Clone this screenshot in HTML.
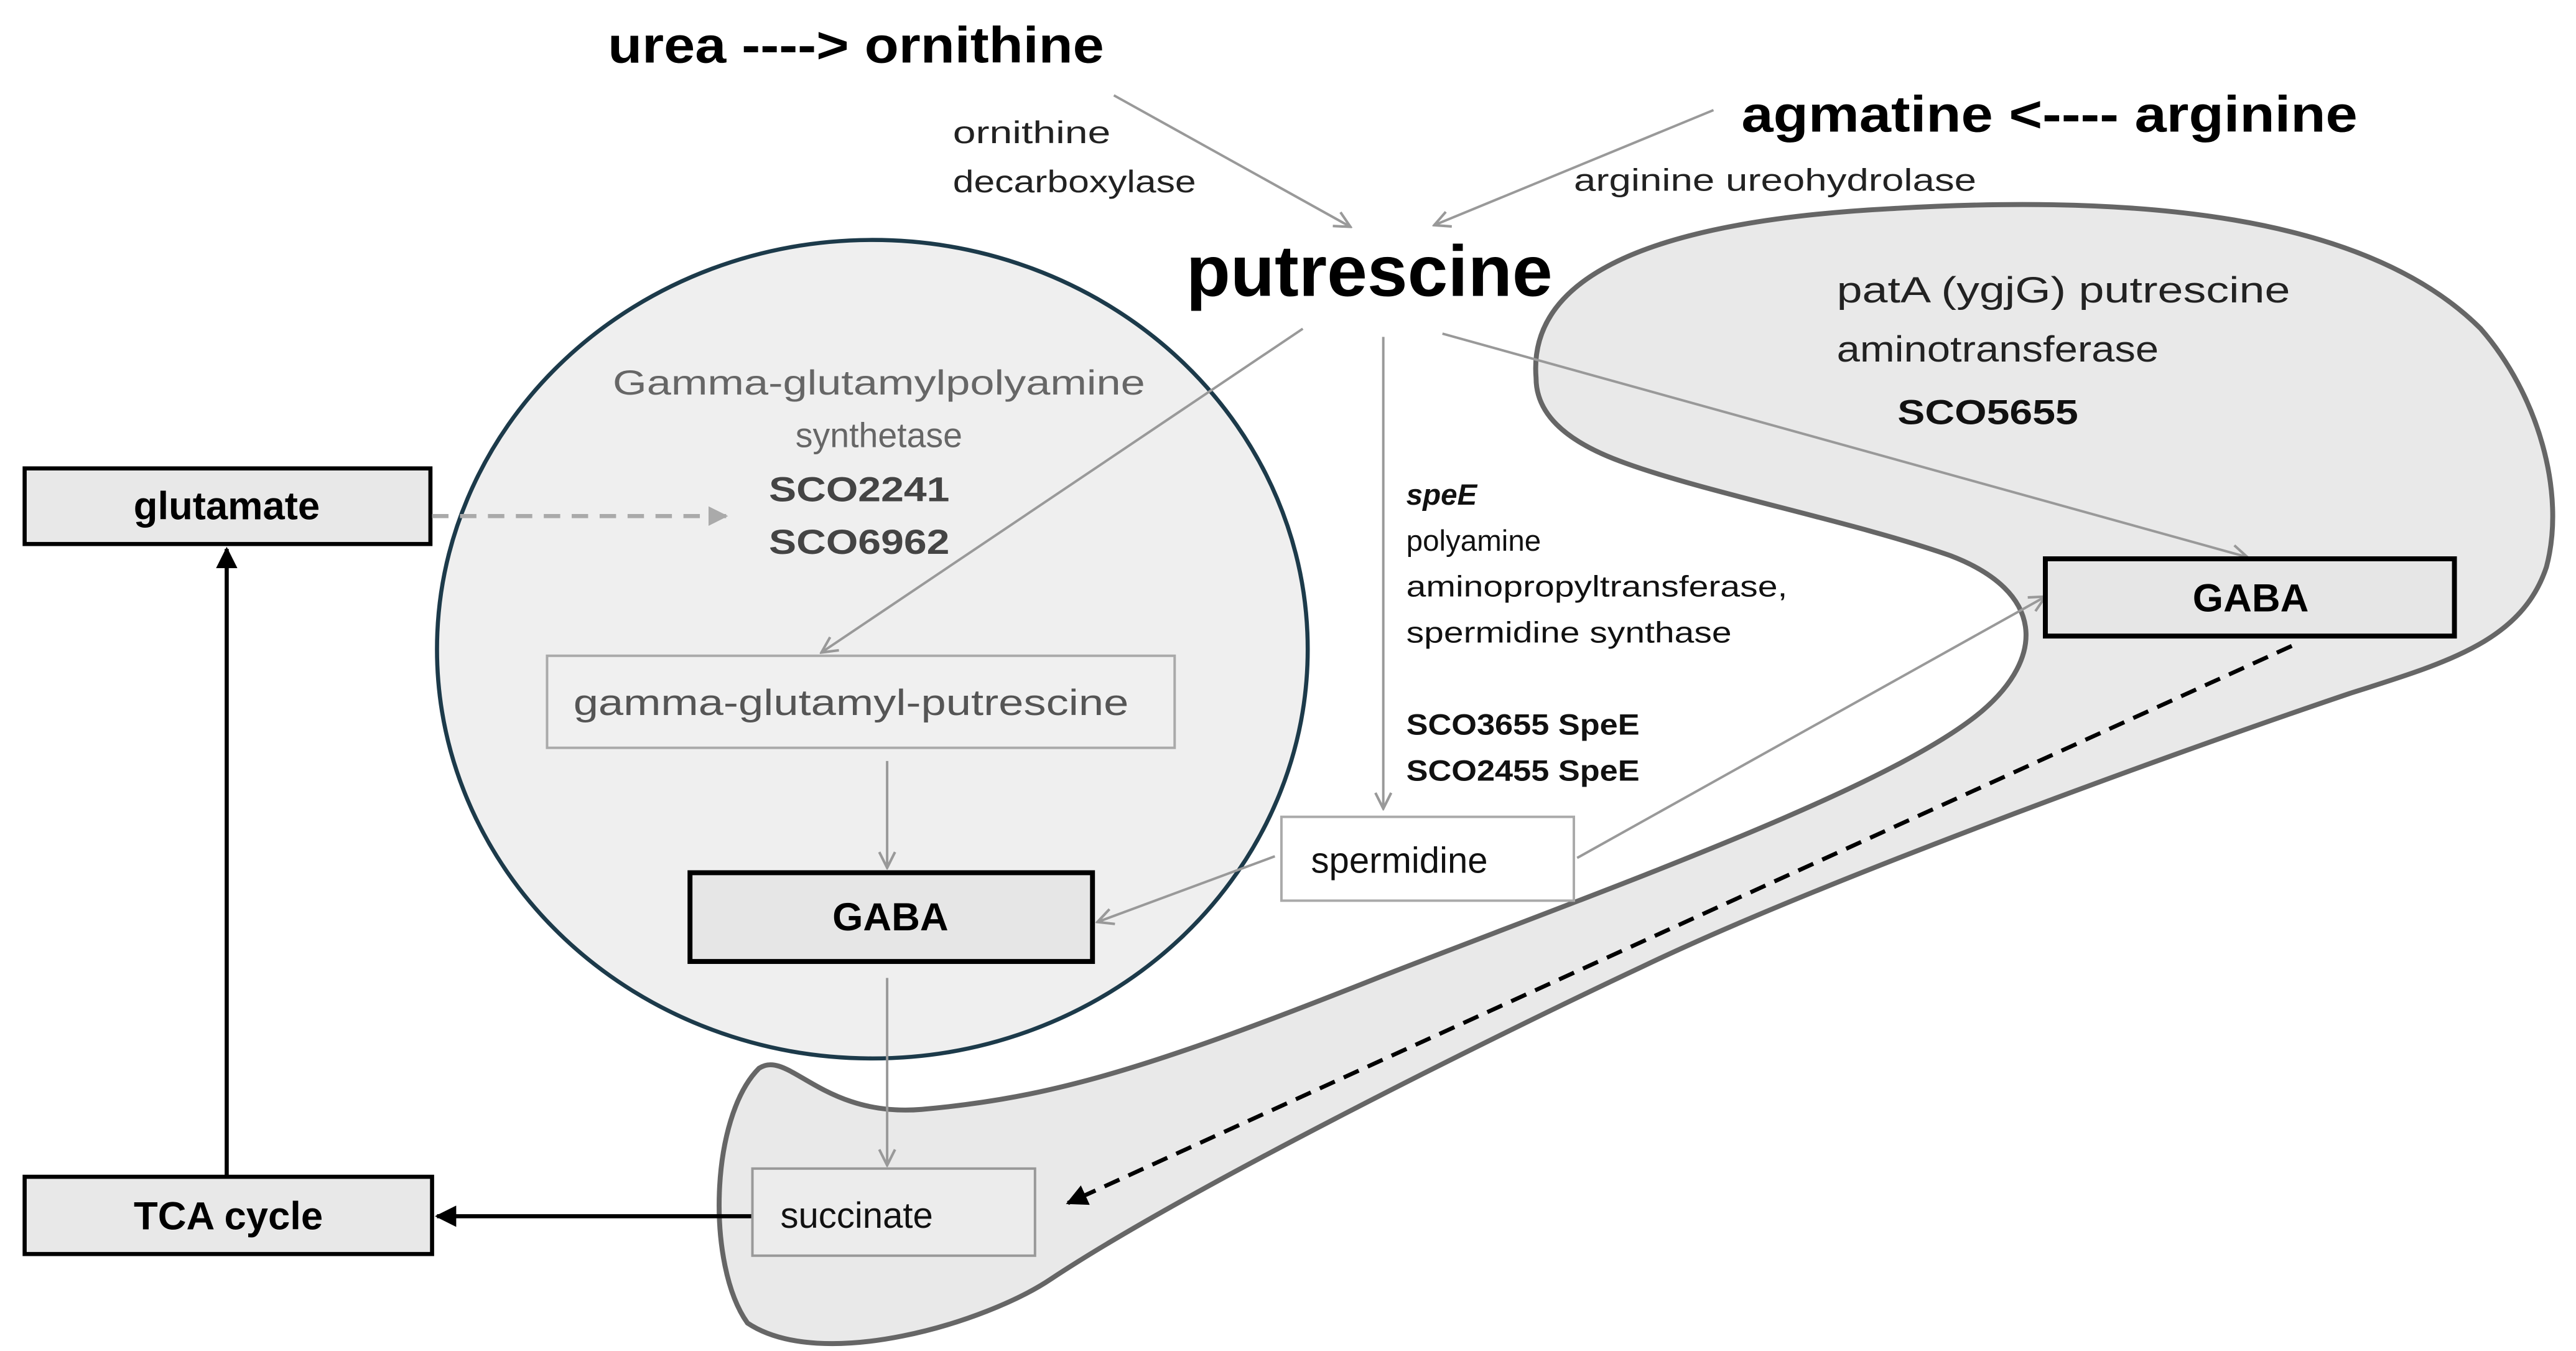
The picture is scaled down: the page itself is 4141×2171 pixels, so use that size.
<!DOCTYPE html>
<html><head><meta charset="utf-8"><style>
html,body{margin:0;padding:0;background:#fff}
svg{display:block}
text{font-family:"Liberation Sans",sans-serif}
</style></head><body>
<svg width="4141" height="2171" viewBox="0 0 1568 822" preserveAspectRatio="none" xmlns="http://www.w3.org/2000/svg">
<defs>
<marker id="g" viewBox="0 0 10 10" refX="9" refY="5" markerWidth="12" markerHeight="12" markerUnits="userSpaceOnUse" orient="auto">
<polyline points="1,1 9,5 1,9" fill="none" stroke="#999" stroke-width="1.3"/></marker>
<marker id="gf" viewBox="0 0 10 10" refX="9" refY="5" markerWidth="12" markerHeight="12" markerUnits="userSpaceOnUse" orient="auto">
<polygon points="0,0 10,5 0,10" fill="#aaa"/></marker>
<marker id="b" viewBox="0 0 10 10" refX="9" refY="5" markerWidth="13" markerHeight="13" markerUnits="userSpaceOnUse" orient="auto">
<polygon points="0,0 10,5 0,10" fill="#000"/></marker>
</defs>

<path d="M935,230 C930,170 1000,135 1150,127 C1300,118 1440,130 1510,200 C1545,240 1562,300 1550,345 C1535,390 1490,403 1430,422 C1300,466 1100,540 1000,588 C900,635 720,725 640,778 C600,805 500,835 455,805 C430,770 432,680 462,650 C480,638 500,680 561,675 C640,668 700,650 841,594 C980,540 1150,480 1206,433 C1245,400 1245,360 1187,338 C1130,318 1040,300 990,282 C950,268 935,250 935,230 Z" fill="#e9e9e9" stroke="#666" stroke-width="3"/>

<ellipse cx="531" cy="395" rx="265" ry="249" fill="#efefef" stroke="#1c3a4a" stroke-width="2.5"/>

<text x="370" y="38" font-size="31" font-weight="bold" textLength="302" lengthAdjust="spacingAndGlyphs">urea ----&gt; ornithine</text>
<text x="1060" y="80" font-size="31" font-weight="bold" textLength="375" lengthAdjust="spacingAndGlyphs">agmatine  &lt;---- arginine</text>
<text x="580" y="87" font-size="19" fill="#222" textLength="96" lengthAdjust="spacingAndGlyphs">ornithine</text>
<text x="580" y="117" font-size="19" fill="#222" textLength="148" lengthAdjust="spacingAndGlyphs">decarboxylase</text>
<text x="958" y="116" font-size="19" fill="#222" textLength="245" lengthAdjust="spacingAndGlyphs">arginine ureohydrolase</text>
<text x="722" y="180" font-size="44" font-weight="bold" textLength="223" lengthAdjust="spacingAndGlyphs">putrescine</text>

<line x1="678" y1="58" x2="822" y2="138" stroke="#999" stroke-width="1.5" marker-end="url(#g)"/>
<line x1="1043" y1="67" x2="873" y2="137" stroke="#999" stroke-width="1.5" marker-end="url(#g)"/>

<text x="1118" y="184" font-size="22" fill="#222" textLength="276" lengthAdjust="spacingAndGlyphs">patA (ygjG)  putrescine</text>
<text x="1118" y="220" font-size="22" fill="#222" textLength="196" lengthAdjust="spacingAndGlyphs">aminotransferase</text>
<text x="1155" y="258" font-size="21" font-weight="bold" fill="#111" textLength="110" lengthAdjust="spacingAndGlyphs">SCO5655</text>

<text x="535" y="240" font-size="21" fill="#666" text-anchor="middle" textLength="324" lengthAdjust="spacingAndGlyphs">Gamma-glutamylpolyamine</text>
<text x="535" y="272" font-size="21" fill="#666" text-anchor="middle">synthetase</text>
<text x="468" y="305" font-size="21" font-weight="bold" fill="#444" textLength="110" lengthAdjust="spacingAndGlyphs">SCO2241</text>
<text x="468" y="337" font-size="21" font-weight="bold" fill="#444" textLength="110" lengthAdjust="spacingAndGlyphs">SCO6962</text>

<rect x="15" y="285" width="247" height="46" fill="#e8e8e8" stroke="#000" stroke-width="2.5"/>
<text x="138" y="316" font-size="24" font-weight="bold" text-anchor="middle">glutamate</text>
<rect x="15" y="716" width="248" height="47" fill="#e8e8e8" stroke="#000" stroke-width="2.5"/>
<text x="139" y="748" font-size="24" font-weight="bold" text-anchor="middle">TCA cycle</text>
<line x1="138" y1="715" x2="138" y2="334" stroke="#000" stroke-width="2.5" marker-end="url(#b)"/>
<line x1="458" y1="740" x2="266" y2="740" stroke="#000" stroke-width="2.5" marker-end="url(#b)"/>
<line x1="263" y1="314" x2="442" y2="314" stroke="#aaa" stroke-width="2.5" stroke-dasharray="10,7" marker-end="url(#gf)"/>

<rect x="333" y="399" width="382" height="56" fill="#f0f0f0" stroke="#aaa" stroke-width="1.5"/>
<text x="518" y="435" font-size="22" fill="#555" text-anchor="middle" textLength="338" lengthAdjust="spacingAndGlyphs">gamma-glutamyl-putrescine</text>
<line x1="793" y1="200" x2="500" y2="397" stroke="#999" stroke-width="1.5" marker-end="url(#g)"/>
<line x1="540" y1="463" x2="540" y2="528" stroke="#999" stroke-width="1.5" marker-end="url(#g)"/>

<rect x="420" y="531" width="245" height="54" fill="#e6e6e6" stroke="#000" stroke-width="3"/>
<text x="542" y="566" font-size="24" font-weight="bold" text-anchor="middle">GABA</text>
<line x1="540" y1="595" x2="540" y2="709" stroke="#999" stroke-width="1.5" marker-end="url(#g)"/>

<rect x="458" y="711" width="172" height="53" fill="#ececec" stroke="#999" stroke-width="1.5"/>
<text x="475" y="747" font-size="22" fill="#111">succinate</text>

<line x1="842" y1="205" x2="842" y2="492" stroke="#999" stroke-width="1.5" marker-end="url(#g)"/>
<text x="856" y="307" font-size="18" font-weight="bold" font-style="italic" fill="#111">speE</text>
<text x="856" y="335" font-size="18" fill="#111">polyamine</text>
<text x="856" y="363" font-size="18" fill="#111" textLength="232" lengthAdjust="spacingAndGlyphs">aminopropyltransferase,</text>
<text x="856" y="391" font-size="18" fill="#111" textLength="198" lengthAdjust="spacingAndGlyphs">spermidine synthase</text>
<text x="856" y="447" font-size="18" font-weight="bold" fill="#111" textLength="142" lengthAdjust="spacingAndGlyphs">SCO3655 SpeE</text>
<text x="856" y="475" font-size="18" font-weight="bold" fill="#111" textLength="142" lengthAdjust="spacingAndGlyphs">SCO2455 SpeE</text>

<rect x="780" y="497" width="178" height="51" fill="#fff" stroke="#aaa" stroke-width="1.5"/>
<text x="798" y="531" font-size="22" fill="#111">spermidine</text>
<line x1="776" y1="521" x2="668" y2="561" stroke="#999" stroke-width="1.5" marker-end="url(#g)"/>
<line x1="960" y1="522" x2="1245" y2="363" stroke="#999" stroke-width="1.5" marker-end="url(#g)"/>
<line x1="878" y1="203" x2="1368" y2="339" stroke="#999" stroke-width="1.5" marker-end="url(#g)"/>

<rect x="1245" y="340" width="249" height="47" fill="#e6e6e6" stroke="#000" stroke-width="3"/>
<text x="1370" y="372" font-size="24" font-weight="bold" text-anchor="middle">GABA</text>
<line x1="1395" y1="393" x2="650" y2="732" stroke="#000" stroke-width="2.5" stroke-dasharray="10,6" marker-end="url(#b)"/>
</svg>
</body></html>
